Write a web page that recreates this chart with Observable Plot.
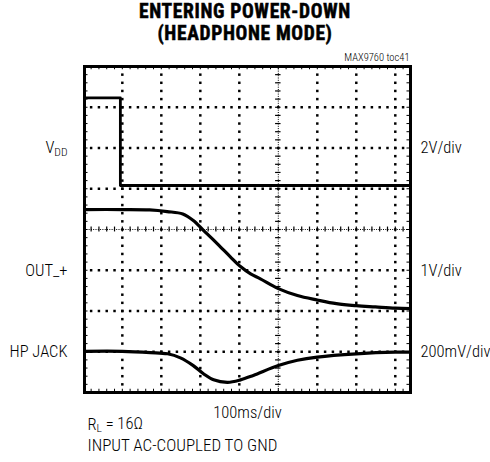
<!DOCTYPE html>
<html>
<head>
<meta charset="utf-8">
<script src="https://cdn.jsdelivr.net/npm/d3@7"></script>
<script src="https://cdn.jsdelivr.net/npm/@observablehq/plot@0.6"></script>
<style>
  html, body { margin: 0; padding: 0; background: #fff; }
  #wrap { width: 490px; height: 462px; position: relative; font-family: "Roboto Condensed", "Liberation Sans Narrow", "DejaVu Sans Condensed", sans-serif; }
  #title { height: 50px; text-align: center; font-weight: bold; font-size: 19.5px; line-height: 22px; letter-spacing: 0.65px; padding-top: 1px; box-sizing: border-box; color: #000; -webkit-text-stroke: 0.5px #000; }
  svg { display: block; }
</style>
</head>
<body>
<div id="wrap">
  <div id="title">ENTERING POWER-DOWN<br>(HEADPHONE MODE)</div>
  <div id="chart"></div>
</div>
<script>
// ---- data (time in ms, vertical position in screen divisions) ----
const vddT = [-97, -5, -5, 739];
const vddV = [3.23, 3.23, 1.08, 1.08];

const outT = [-97, 0, 70, 115, 155, 182, 208, 231, 252, 277, 303, 329, 354, 400, 449, 500, 549, 600, 649, 700, 739];
const outV = [0.49, 0.49, 0.48, 0.44, 0.38, 0.22, -0.02, -0.23, -0.43, -0.67, -0.91, -1.09, -1.21, -1.45, -1.62, -1.73, -1.82, -1.87, -1.90, -1.93, -1.94];

const hpT = [-97, 0, 72, 116, 149, 182, 208, 234, 270, 303, 336, 400, 449, 500, 600, 700, 739];
const hpV = [-2.99, -2.99, -3.02, -3.05, -3.15, -3.34, -3.54, -3.69, -3.75, -3.69, -3.58, -3.34, -3.21, -3.13, -3.05, -3.01, -3.01];

const leftLabels = ["VDD", "OUT_+", "HP JACK"];
const rightLabels = ["2V/div", "1V/div", "200mV/div"];
const labelPos = [2, -1, -3];

const xDomain = [-97, 739];
const yDomain = [-4, 4];
const majorX = [0, 100, 200, 300, 500, 600, 700];
const majorY = [-3, -2, -1, 1, 2, 3];
const centerX = 400, centerY = 0;

// ---- derived tables ----
const vdd = vddT.map((t, i) => ({t, v: vddV[i]}));
const out = outT.map((t, i) => ({t, v: outV[i]}));
const hp = hpT.map((t, i) => ({t, v: hpV[i]}));
const leftLab = leftLabels.map((s, i) => ({s, y: labelPos[i]}));
const rightLab = rightLabels.map((s, i) => ({s, y: labelPos[i]}));

// graticule minor positions
const minorXs = d3.range(-80, 739, 20);
const minorYs = d3.range(-3.8, 3.81, 0.2).map(v => Math.round(v * 10) / 10);
const gridDots = [];
for (const x of majorX) for (const y of minorYs) gridDots.push({x, y});
for (const y of majorY) for (const x of minorXs) gridDots.push({x, y});

const font = '"Roboto Condensed", "Liberation Sans Narrow", "DejaVu Sans Condensed", sans-serif';

const chart = Plot.plot({
  width: 490,
  height: 412,
  marginLeft: 84,
  marginRight: 80,
  marginTop: 16,
  marginBottom: 70,
  style: {fontFamily: font, background: "white", overflow: "visible"},
  x: {domain: xDomain, axis: null},
  y: {domain: yDomain, axis: null},
  marks: [
    // dotted major graticule lines (one dot per minor division)
    Plot.dot(gridDots, {x: "x", y: "y", symbol: "square", r: 1.4, fill: "black", stroke: "none"}),
    // centre cross: dense dotted with minor ticks
    Plot.ruleX([centerX], {stroke: "black", strokeWidth: 1, strokeDasharray: "1,1.3"}),
    Plot.ruleY([centerY], {stroke: "black", strokeWidth: 1, strokeDasharray: "1,1.3"}),
    Plot.ruleY(minorYs, {y: d => d, x1: centerX - 7, x2: centerX + 7, stroke: "black", strokeWidth: 1.2}),
    Plot.ruleX(minorXs, {x: d => d, y1: centerY - 0.06, y2: centerY + 0.06, stroke: "black", strokeWidth: 1.2}),
    // edge ticks
    Plot.ruleY(minorYs, {y: d => d, x1: xDomain[0], x2: xDomain[0] + 9, stroke: "black", strokeWidth: 1}),
    Plot.ruleY(minorYs, {y: d => d, x1: xDomain[1] - 9, x2: xDomain[1], stroke: "black", strokeWidth: 1}),
    Plot.ruleX(minorXs, {x: d => d, y1: yDomain[0], y2: yDomain[0] + 0.08, stroke: "black", strokeWidth: 1}),
    Plot.ruleX(minorXs, {x: d => d, y1: yDomain[1] - 0.08, y2: yDomain[1], stroke: "black", strokeWidth: 1}),
    // traces
    Plot.line(vdd, {x: "t", y: "v", stroke: "black", strokeWidth: 2.8}),
    Plot.line(out, {x: "t", y: "v", stroke: "black", strokeWidth: 3.2, curve: "catmull-rom"}),
    Plot.line(hp, {x: "t", y: "v", stroke: "black", strokeWidth: 3.2, curve: "catmull-rom"}),
    Plot.frame({stroke: "black", strokeWidth: 3}),
    // labels
    Plot.text(leftLab, {y: "y", text: "s", frameAnchor: "left", dx: -17, textAnchor: "end", fontSize: 16.5, fontWeight: 300, fill: "black"}),
    Plot.text(rightLab, {y: "y", text: "s", frameAnchor: "right", dx: 10, textAnchor: "start", fontSize: 16.5, fontWeight: 300, fill: "black"}),
    Plot.text(["MAX9760 toc41"], {frameAnchor: "top-right", dx: -1, dy: -9, textAnchor: "end", lineAnchor: "middle", fontSize: 10.5, fontWeight: 300, fill: "black"}),
    Plot.text(["100ms/div"], {frameAnchor: "bottom", dy: 20, lineAnchor: "middle", fontSize: 16.5, fontWeight: 300, fill: "black"}),
    Plot.text(["RL = 16Ω"], {frameAnchor: "bottom-left", dx: 3, dy: 32, textAnchor: "start", lineAnchor: "middle", fontSize: 16.5, fontWeight: 300, fill: "black"}),
    Plot.text(["INPUT AC-COUPLED TO GND"], {frameAnchor: "bottom-left", dx: 3, dy: 53, textAnchor: "start", lineAnchor: "middle", fontSize: 17, fontWeight: 300, fill: "black"})
  ]
});

// subscripts
d3.select(chart).selectAll("text").each(function() {
  const t = this.textContent;
  const sub = t === "VDD" ? ["V", "DD"] : t === "RL = 16Ω" ? ["R", "L", " = 16Ω"] : null;
  if (!sub) return;
  const el = d3.select(this);
  el.text(null);
  el.append("tspan").text(sub[0]);
  el.append("tspan").attr("font-size", "0.7em").attr("dy", "0.2em").text(sub[1]);
  if (sub[2]) el.append("tspan").attr("dy", "-0.2em").text(sub[2]);
});

document.getElementById("chart").appendChild(chart);
</script>
</body>
</html>
